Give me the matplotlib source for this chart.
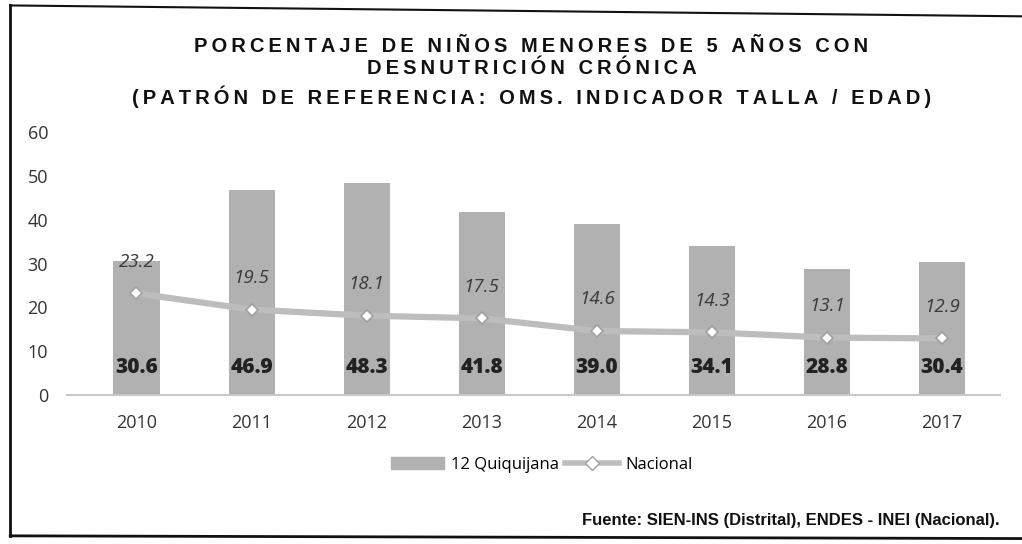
import numpy as np
import matplotlib.pyplot as plt
from matplotlib.lines import Line2D
from matplotlib.patches import Patch

# Datos
anios = ['2010', '2011', '2012', '2013', '2014', '2015', '2016', '2017']
quiquijana = [30.6, 46.9, 48.3, 41.8, 39.0, 34.1, 28.8, 30.4]
nacional = [23.2, 19.5, 18.1, 17.5, 14.6, 14.3, 13.1, 12.9]

titulo = ['PORCENTAJE DE NIÑOS MENORES DE 5 AÑOS CON',
          'DESNUTRICIÓN CRÓNICA',
          '(PATRÓN DE REFERENCIA: OMS. INDICADOR TALLA / EDAD)']
fuente = 'Fuente: SIEN-INS (Distrital), ENDES - INEI (Nacional).'

c_barra = '#b1b1b1'
c_linea = '#bdbdbd'

fig = plt.figure(figsize=(10.22, 5.44), dpi=100)
ax = fig.add_axes([0.066, 0.274, 0.912, 0.483])

x = np.arange(len(anios))
ax.bar(x, quiquijana, width=0.4, color=c_barra, zorder=2)
ax.plot(x, nacional, color=c_linea, lw=4.5, marker='D', markersize=6.5,
        markerfacecolor='white', markeredgecolor='#a0a0a0', markeredgewidth=1.2, zorder=3)

# Etiquetas
for xi, v in zip(x, quiquijana):
    ax.text(xi, 6.3, f'{v:.1f}', ha='center', va='center', fontsize=15,
            fontweight='heavy', color='#222222', family='Open Sans', zorder=4)
for xi, v in zip(x, nacional):
    ax.text(xi, v + 7.2, f'{v:.1f}', ha='center', va='center', fontsize=13.5,
            style='italic', color='#3a3a3a', family='Open Sans', zorder=4)

ax.set_xlim(-0.6, 7.5)
ax.set_ylim(0, 60)
ax.set_yticks(range(0, 61, 10))
ax.set_xticks(x)
ax.set_xticklabels(anios)
ax.tick_params(length=0, labelsize=13, colors='#333333', pad=14)
ax.tick_params(axis='y', pad=14)
for lbl in ax.get_xticklabels() + ax.get_yticklabels():
    lbl.set_family('Open Sans')
for s in ['top', 'right', 'left']:
    ax.spines[s].set_visible(False)
ax.spines['bottom'].set_color('#c8c8c8')
ax.spines['bottom'].set_linewidth(1.5)

# Leyenda
handles = [Patch(color=c_barra),
           Line2D([], [], color=c_linea, lw=4, marker='D', markersize=7,
                  markerfacecolor='white', markeredgecolor='#a0a0a0')]
fig.legend(handles, ['12 Quiquijana', 'Nacional'], loc='center',
           bbox_to_anchor=(0.53, 0.145), ncol=2, frameon=False,
           prop={'family': 'Open Sans', 'size': 12}, handlelength=3.2,
           columnspacing=0.4, handletextpad=0.4)

# Título con espaciado de letras
def espaciar(t):
    return '\u2009'.join(t)

ys = [1 - 46 / 544, 1 - 68 / 544, 1 - 97 / 544]
for t, yy in zip(titulo, ys):
    fig.text(0.52, yy, espaciar(t), ha='center', va='center', fontsize=14.5,
             fontweight='bold', family='Liberation Sans', color='#111111')

fig.text(0.978, 1 - 521 / 544, fuente, ha='right', va='center', fontsize=12,
         fontweight='bold', family='Liberation Sans', color='#111111')

# Marco
fig.add_artist(Line2D([0.01, 0.01], [0.015, 0.99], color='#111111', lw=2))
fig.add_artist(Line2D([0.01, 1.0], [0.99, 0.97], color='#111111', lw=1.5))
fig.add_artist(Line2D([0.01, 1.0], [0.015, 0.01], color='#111111', lw=2))

fig.savefig('out.png', dpi=100)
